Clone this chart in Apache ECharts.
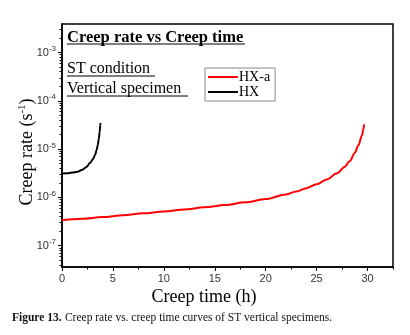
<!DOCTYPE html>
<html>
<head>
<meta charset="utf-8">
<script src="https://cdn.jsdelivr.net/npm/echarts@6/dist/echarts.min.js"></script>
<style>
  html, body { margin: 0; padding: 0; background: #fff; }
  #chart { width: 410px; height: 335px; }
</style>
</head>
<body>
<div id="chart"></div>
<script>
// Creep rate (s^-1) against creep time (h) for the two ST vertical specimens
const hxaTime = [0, 2, 4, 6, 8, 10, 12, 14, 16, 18, 20, 22, 23, 24, 25, 26, 27, 27.75, 28.25, 28.75, 29.1, 29.45, 29.58, 29.66];
const hxaRate = [3.35e-7, 3.6e-7, 3.9e-7, 4.25e-7, 4.65e-7, 5.1e-7, 5.6e-7, 6.2e-7, 6.9e-7, 7.9e-7, 9.2e-7, 1.15e-6, 1.32e-6, 1.55e-6, 1.86e-6, 2.34e-6, 3.16e-6, 4.27e-6, 5.62e-6, 8.32e-6, 1.2e-5, 1.9e-5, 2.5e-5, 3.24e-5];

const hxTime = [0, 0.5, 1.0, 1.5, 2.0, 2.4, 2.75, 3.04, 3.25, 3.4, 3.52, 3.62, 3.7, 3.76, 3.78];
const hxRate = [3.1e-6, 3.15e-6, 3.25e-6, 3.38e-6, 3.72e-6, 4.27e-6, 5.13e-6, 6.17e-6, 7.59e-6, 9.55e-6, 1.23e-5, 1.66e-5, 2.29e-5, 3.16e-5, 3.47e-5];

const xMajorTicks = [0, 5, 10, 15, 20, 25, 30];
const xMinorTicks = [2.5, 7.5, 12.5, 17.5, 22.5, 27.5, 32.5];
const yMajorTicks = [1e-7, 1e-6, 1e-5, 1e-4, 1e-3];

const X_MIN = 0, X_MAX = 32.5;
const Y_MIN = 3.6e-8, Y_MAX = 3.9e-3;

// log minor ticks: 2..9 x 10^n inside the axis range
const yMinorTicks = [];
for (let e = -8; e <= -3; e++) {
  for (let k = 2; k <= 9; k++) {
    const v = k * Math.pow(10, e);
    if (v > Y_MIN && v < Y_MAX) yMinorTicks.push(v);
  }
}

const pair = (xs, ys) => xs.map((x, i) => [x, ys[i]]);

const serif = 'Liberation Serif';
const sans = 'Liberation Sans';

const chart = echarts.init(document.getElementById('chart'));

chart.setOption({
  animation: false,
  backgroundColor: '#fff',
  grid: {
    left: 62, top: 24, right: 17, bottom: 68,
    containLabel: false,
    show: true, borderColor: '#000', borderWidth: 1.5
  },
  legend: {
    orient: 'vertical',
    left: 205, top: 68,
    padding: [2, 5, 2, 3],
    itemGap: 1,
    icon: 'rect',
    itemWidth: 30, itemHeight: 2,
    borderColor: '#888', borderWidth: 1,
    textStyle: { fontFamily: serif, fontSize: 14, color: '#000', padding: [0, 0, 0, -4], lineHeight: 13 },
    data: ['HX-a', 'HX']
  },
  xAxis: [
    {
      type: 'value', min: X_MIN, max: X_MAX,
      axisLine: { show: true, lineStyle: { color: '#000', width: 1.5 } },
      axisTick: { show: true, inside: false, length: 4, customValues: xMajorTicks, lineStyle: { color: '#000', width: 1 } },
      axisLabel: { customValues: xMajorTicks, fontFamily: sans, fontSize: 11, color: '#333', margin: 6 },
      splitLine: { show: false }
    },
    {
      type: 'value', min: X_MIN, max: X_MAX, position: 'bottom',
      axisLine: { show: false },
      axisTick: { show: true, inside: false, length: 2.5, customValues: xMinorTicks, lineStyle: { color: '#000', width: 1 } },
      axisLabel: { show: false },
      splitLine: { show: false }
    }
  ],
  yAxis: [
    {
      type: 'log', logBase: 10, min: Y_MIN, max: Y_MAX,
      axisLine: { show: true, lineStyle: { color: '#000', width: 1.5 } },
      axisTick: { show: true, inside: false, length: 4, customValues: yMajorTicks, lineStyle: { color: '#000', width: 1 } },
      axisLabel: {
        customValues: yMajorTicks,
        margin: 6,
        formatter: v => '{b|10}{s|' + Math.round(Math.log10(v)) + '}',
        rich: {
          b: { fontFamily: sans, fontSize: 11, color: '#333' },
          s: { fontFamily: sans, fontSize: 8, color: '#333', padding: [0, 0, 7, 0] }
        }
      },
      splitLine: { show: false }
    },
    {
      type: 'log', logBase: 10, min: Y_MIN, max: Y_MAX, position: 'left',
      axisLine: { show: false },
      axisTick: { show: true, inside: false, length: 2.5, customValues: yMinorTicks, lineStyle: { color: '#000', width: 1 } },
      axisLabel: { show: false },
      splitLine: { show: false }
    }
  ],
  series: [
    {
      name: 'HX-a', type: 'line', xAxisIndex: 0, yAxisIndex: 0,
      data: pair(hxaTime, hxaRate),
      smooth: 0.35, smoothMonotone: 'x', symbol: 'none',
      lineStyle: { color: '#ff0000', width: 2 },
      itemStyle: { color: '#ff0000' }
    },
    {
      name: 'HX', type: 'line', xAxisIndex: 0, yAxisIndex: 0,
      data: pair(hxTime, hxRate),
      smooth: 0.35, smoothMonotone: 'x', symbol: 'none',
      lineStyle: { color: '#000', width: 2 },
      itemStyle: { color: '#000' }
    }
  ],
  graphic: [
    { type: 'text', left: 67, top: 29, style: { text: 'Creep rate vs Creep time', font: 'bold 16.5px ' + serif, fill: '#000' } },
    { type: 'line', shape: { x1: 67, y1: 44, x2: 245, y2: 44 }, style: { stroke: '#000', lineWidth: 1 } },
    { type: 'text', left: 67, top: 61, style: { text: 'ST condition', font: '16px ' + serif, fill: '#000' } },
    { type: 'line', shape: { x1: 67, y1: 76, x2: 155, y2: 76 }, style: { stroke: '#000', lineWidth: 1 } },
    { type: 'text', left: 67, top: 81, style: { text: 'Vertical specimen', font: '16px ' + serif, fill: '#000' } },
    { type: 'line', shape: { x1: 67, y1: 96, x2: 188, y2: 96 }, style: { stroke: '#000', lineWidth: 1 } },
    {
      type: 'text', x: 27, y: 152, rotation: Math.PI / 2,
      style: {
        text: '{n|Creep rate (s}{s|-1}{n|)}',
        align: 'center', verticalAlign: 'middle',
        rich: {
          n: { fontFamily: serif, fontSize: 18, fill: '#000' },
          s: { fontFamily: serif, fontSize: 11, fill: '#000', padding: [0, 0, 9, 0] }
        }
      }
    },
    {
      type: 'text', x: 204, y: 297,
      style: { text: 'Creep time (h)', font: '18px ' + serif, fill: '#000', align: 'center', verticalAlign: 'middle' }
    },
    {
      type: 'text', x: 12, y: 318,
      style: {
        text: '{b|Figure 13.} {n|Creep rate vs. creep time curves of ST vertical specimens.}',
        verticalAlign: 'middle',
        rich: {
          b: { fontFamily: serif, fontSize: 11.5, fontWeight: 'bold', fill: '#111' },
          n: { fontFamily: serif, fontSize: 11.5, fill: '#111' }
        }
      }
    }
  ]
});
</script>
</body>
</html>
